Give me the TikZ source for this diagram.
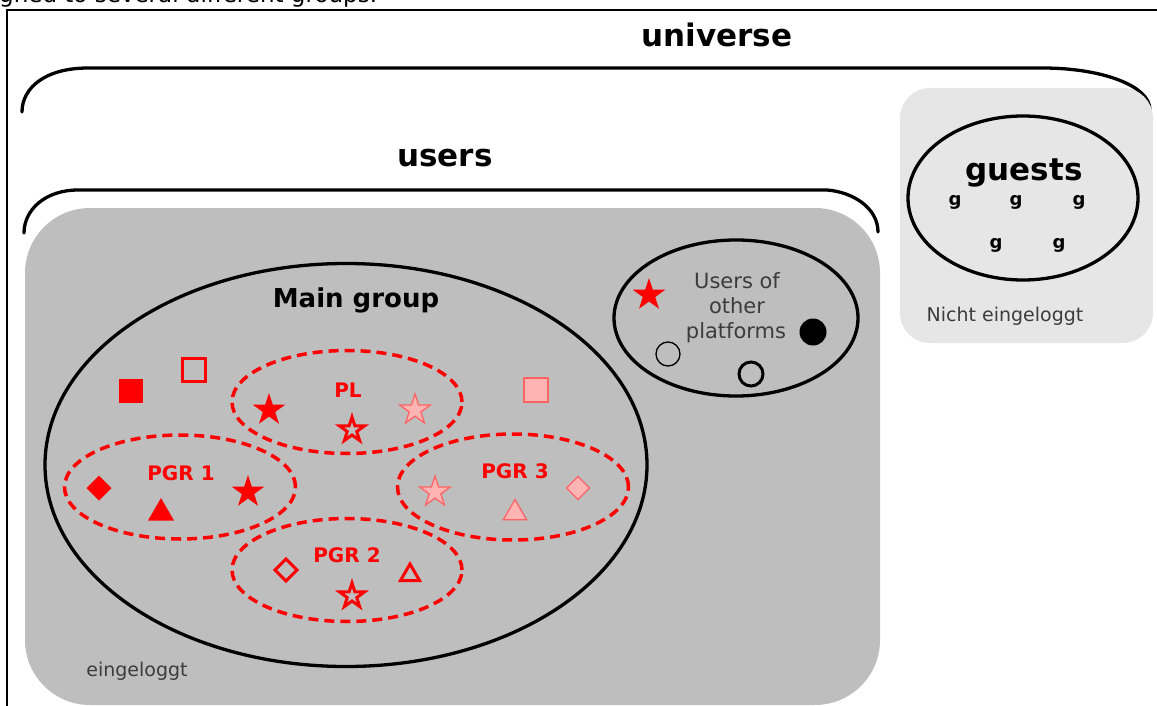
\documentclass[tikz,border=0pt]{standalone}
\usepackage{fontspec}
\setmainfont{DejaVu Sans}
\usetikzlibrary{shapes.geometric}

\definecolor{boxgray}{RGB}{190,190,190}
\definecolor{lightbox}{RGB}{230,230,230}
\definecolor{pinkfill}{RGB}{255,180,180}
\definecolor{pinkline}{RGB}{255,100,100}
\definecolor{notegray}{RGB}{60,60,60}

\begin{document}
\begin{tikzpicture}
  [x=1pt,y=-1pt,
  big/.style={anchor=base,font=\bfseries\fontsize{31}{36}\selectfont},
  pgr/.style={anchor=base,text=red,font=\bfseries\fontsize{20}{24}\selectfont},
  note/.style={anchor=base,text=notegray,font=\fontsize{19}{23}\selectfont},
  gsm/.style={anchor=base,font=\bfseries\fontsize{18}{22}\selectfont},
  brace/.style={line width=3.3pt,line cap=round},
  set/.style={draw,ellipse,line width=3.3pt,inner sep=0pt},
  sub/.style={draw=red,ellipse,dash pattern=on 10pt off 6pt,line width=3.5pt,inner sep=0pt},
  mk/.style={inner sep=0pt,outer sep=0pt},
  fullred/.style={mk,fill=red},
  openred/.style={mk,draw=red,line width=3pt},
  lightred/.style={mk,fill=pinkfill,draw=pinkline,line width=1.3pt},
  sqr/.style={rectangle,minimum size=#1},
  dmd/.style={diamond,minimum size=#1},
  trg/.style={regular polygon,regular polygon sides=3,minimum size=#1},
  str/.style={star,star points=5,star point ratio=2.6,minimum size=#1},
  dsc/.style={circle,minimum size=#1}]

  \useasboundingbox (0,0) rectangle (1157,706);

  \node[anchor=base west,inner sep=0pt,font=\fontsize{23}{28}\selectfont] (caption) at (-1,3) {gned to several different groups.};
  \draw[line width=1.2pt] (7,706) -- (7,10) -- (1157,10);

  \draw[brace] (22,112) .. controls (22,88) and (45,68) .. (88,68) -- (1043,68) .. controls (1100,68) and (1150,85) .. (1150,110);
  \draw[brace] (24,233) .. controls (24,210) and (45,190) .. (78,190) -- (827,190) .. controls (853,192) and (878,208) .. (878,232);

  \fill[boxgray,rounded corners=65pt] (25,208) rectangle (880,705);
  \fill[lightbox,rounded corners=30pt] (900,88) rectangle (1153,343);

  \node[big] (univ) at (717,47) {universe};
  \node[big] (usr) at (445,167) {users};
  \node[big] (gst) at (1024,180) {guests};

  \node[set,minimum width=602pt,minimum height=403pt] (maingrp) at (346,465) {};
  \node[set,minimum width=244pt,minimum height=156pt] (others) at (736,318) {};
  \node[set,minimum width=230pt,minimum height=164pt] (guests) at (1023,198) {};

  \node[sub,minimum width=230pt,minimum height=103pt] (pl) at (347,402) {};
  \node[sub,minimum width=231pt,minimum height=104pt] (pgr1) at (180,487) {};
  \node[sub,minimum width=230pt,minimum height=103pt] (pgr2) at (347,570) {};
  \node[sub,minimum width=231pt,minimum height=106pt] (pgr3) at (513,487) {};

  \node[big,font=\bfseries\fontsize{26}{30}\selectfont] (mainlbl) at (356,307) {Main group};
  \node[pgr] (pllbl) at (348,397) {PL};
  \node[pgr] (pgr1lbl) at (181,480) {PGR 1};
  \node[pgr] (pgr2lbl) at (347,562) {PGR 2};
  \node[pgr] (pgr3lbl) at (515,478) {PGR 3};

  \node[fullred,sqr=24pt] (sq1) at (131,391) {};
  \node[openred,sqr=23pt] (sq2) at (194,370) {};
  \node[lightred,sqr=24pt] (sq3) at (536,390) {};

  \node[fullred,str=34pt] (pls1) at (269,410) {};
  \node[openred,str=26pt] (pls2) at (352,430) {};
  \node[lightred,str=32pt] (pls3) at (415,410) {};

  \node[fullred,dmd=25pt] (g1d) at (99,488) {};
  \node[fullred,trg=30pt] (g1t) at (161,513) {};
  \node[fullred,str=34pt] (g1s) at (248,492) {};

  \node[openred,dmd=22pt] (g2d) at (286,570) {};
  \node[openred,str=26pt] (g2s) at (352,596) {};
  \node[openred,trg=22pt] (g2t) at (410,575) {};

  \node[lightred,str=32pt] (g3s) at (435,492) {};
  \node[lightred,trg=27pt] (g3t) at (515,513) {};
  \node[lightred,dmd=23pt] (g3d) at (578,488) {};

  \node[fullred,str=34pt] (os) at (649,295) {};
  \node[mk,draw,line width=1.3pt,dsc=24pt] (oc1) at (668,354) {};
  \node[mk,fill=black,dsc=27pt] (oc2) at (813,332) {};
  \node[mk,draw,line width=3pt,dsc=24pt] (oc3) at (751,374) {};

  \node[note,font=\fontsize{21}{25}\selectfont] (oth1) at (737,288) {Users of};
  \node[note,font=\fontsize{21}{25}\selectfont] (oth2) at (737,313) {other};
  \node[note,font=\fontsize{21}{25}\selectfont] (oth3) at (736,338) {platforms};

  \node[gsm] (ga) at (955,205) {g};
  \node[gsm] (gb) at (1016,205) {g};
  \node[gsm] (gc) at (1079,205) {g};
  \node[gsm] (gd) at (996,248) {g};
  \node[gsm] (ge) at (1059,248) {g};

  \node[note] (nicht) at (1005,321) {Nicht eingeloggt};
  \node[note] (ein) at (137,676) {eingeloggt};

\end{tikzpicture}
\end{document}
